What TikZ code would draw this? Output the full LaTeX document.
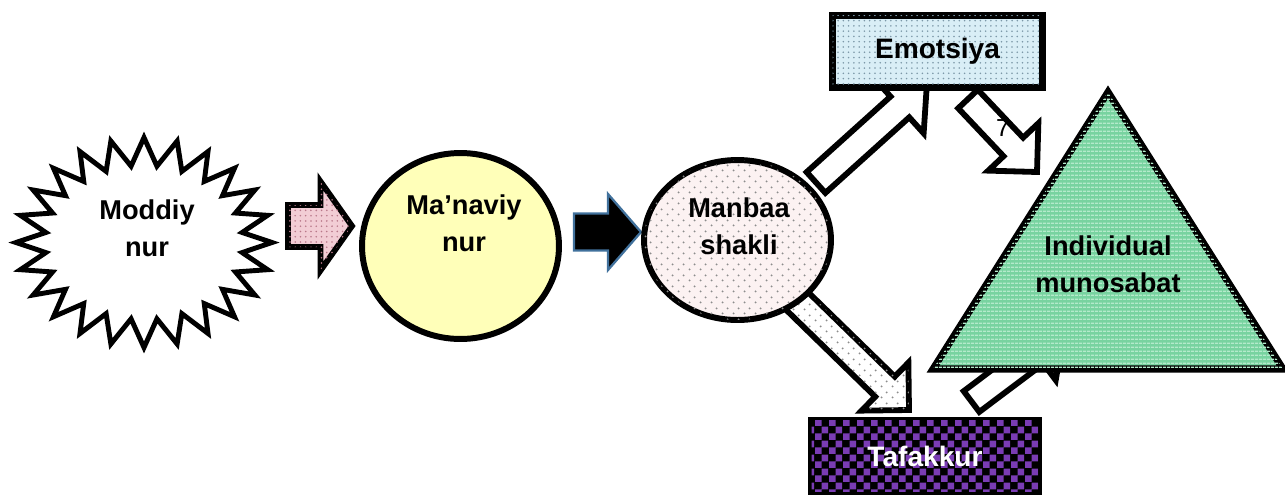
\documentclass[tikz,border=0pt]{standalone}
\usepackage{fontspec}
\setmainfont{Liberation Sans}
\usetikzlibrary{shapes.geometric, calc, backgrounds, patterns}

\definecolor{LightPink}{HTML}{F2CDD5}
\definecolor{PinkDot}{HTML}{B9788A}
\definecolor{PaleYellow}{HTML}{FFFFB9}
\definecolor{PalePink}{HTML}{FCF2F2}
\definecolor{DotGray}{HTML}{8C8C8C}
\definecolor{IceBlue}{HTML}{D9EEF6}
\definecolor{IceDot}{HTML}{7C98A8}
\definecolor{SteelEdge}{HTML}{41719C}
\definecolor{MintGreen}{HTML}{78D3A0}
\definecolor{MintLine}{HTML}{B4EACB}
\definecolor{GrapePurple}{HTML}{7A3CB4}

% own fill patterns
\pgfdeclarepatternformonly{sparse dots}{\pgfpointorigin}{\pgfqpoint{6pt}{6pt}}{\pgfqpoint{6pt}{6pt}}{%
  \pgfpathcircle{\pgfqpoint{1.5pt}{1.5pt}}{0.6pt}\pgfpathcircle{\pgfqpoint{4.5pt}{4.5pt}}{0.6pt}\pgfusepath{fill}}
\pgfdeclarepatternformonly{big checker}{\pgfpointorigin}{\pgfqpoint{8pt}{8pt}}{\pgfqpoint{8pt}{8pt}}{%
  \pgfpathrectangle{\pgfpointorigin}{\pgfqpoint{4pt}{4pt}}\pgfpathrectangle{\pgfqpoint{4pt}{4pt}}{\pgfqpoint{4pt}{4pt}}\pgfusepath{fill}}
\pgfdeclarepatternformonly{fine lines}{\pgfpointorigin}{\pgfqpoint{2pt}{2.2pt}}{\pgfqpoint{2pt}{2.2pt}}{%
  \pgfpathrectangle{\pgfpointorigin}{\pgfqpoint{2pt}{0.8pt}}\pgfusepath{fill}}

\tikzset{
  caption/.style={font=\fontsize{15.5}{21}\selectfont\bfseries, align=center, inner sep=0pt},
  bubble/.style={ellipse, draw=black, line width=3.4pt, inner sep=0pt},
  namebox/.style={rectangle, draw=black, line width=4pt, inner sep=0pt, font=\fontsize{16}{21}\selectfont\bfseries},
  burst/.style={draw=black, line width=2.8pt, fill=white, line join=miter},
  pyramid/.style={draw=black, line width=4pt, fill=MintGreen, postaction={pattern=fine lines, pattern color=MintLine}},
  fatarrow/.style={draw=black, line width=3.3pt, line join=miter, fill=white}
}

% block arrow: [style]{from}{to}{shaft half width}{head half width}{head length}
\newcommand{\fatarrow}[6][]{%
  \coordinate (fa-base) at ($(#3)!#6!(#2)$);
  \draw[fatarrow,#1] ($(#2)!#4!90:(#3)$) -- ($(fa-base)!#4!90:(#3)$) -- ($(fa-base)!#5!90:(#3)$) -- (#3)
    -- ($(fa-base)!#5!-90:(#3)$) -- ($(fa-base)!#4!-90:(#3)$) -- ($(#2)!#4!-90:(#3)$) -- cycle;}

\begin{document}
\begin{tikzpicture}[x=0.02cm, y=-0.02cm]
  \useasboundingbox (0,0) rectangle (1285,495);

  % light source
  \draw[burst, shift={(144,242.5)}] (90:128 and 105)
    \foreach \i [evaluate=\i as \rx using {isodd(\i) ? 99 : 128}, evaluate=\i as \ry using {isodd(\i) ? 77 : 105}] in {1,...,47} { -- ({90+7.5*\i}:{\rx} and {\ry}) } -- cycle;
  \node[caption] (moddiy) at (147,228) {Moddiy\\nur};

  \node[bubble, fill=PaleYellow, minimum width=3.94cm, minimum height=3.72cm] (manaviy) at (460.5,246) {};
  \node[caption] (manaviy-text) at (464,223) {Ma’naviy\\nur};

  \node[bubble, fill=PalePink, postaction={pattern=sparse dots, pattern color=DotGray}, minimum width=3.74cm, minimum height=3.2cm] (manbaa) at (737.5,240) {};
  \node[caption] (manbaa-text) at (739,226) {Manbaa\\shakli};

  \node[namebox, fill=IceBlue, postaction={pattern=dots, pattern color=IceDot}, minimum width=4.2cm, minimum height=1.44cm] (emotsiya) at (937.5,51.5) {Emotsiya};
  \node[namebox, fill=black, postaction={pattern=big checker, pattern color=GrapePurple}, text=white, minimum width=4.54cm, minimum height=1.42cm] (tafakkur) at (925,456) {Tafakkur};

  \draw[pyramid] (1108,92) coordinate (apex) -- (933,369) coordinate (base-l) -- (1283,369) coordinate (base-r) -- cycle;
  \node[caption] (individual) at (1108,264) {Individual\\munosabat};

  \node[font=\fontsize{14}{14}\selectfont, inner sep=0pt] (seven) at (1003,128) {7};

  % arrows behind the shapes
  \begin{scope}[on background layer]
    \coordinate (moddiy-out) at (288,226);
    \coordinate (manaviy-in) at (352,226);
    \coordinate (manaviy-out) at (574,232);
    \coordinate (manbaa-in) at (641,232);
    \coordinate (manbaa-up) at (816,182.5);
    \coordinate (emotsiya-in) at (927,82.5);
    \coordinate (emotsiya-out) at (968,99);
    \coordinate (pyramid-top) at (1037,172);
    \coordinate (manbaa-down) at (793,297);
    \coordinate (tafakkur-in) at (909,410);
    \coordinate (tafakkur-out) at (971.5,401.5);
    \coordinate (pyramid-low) at (1064,332);

    \fatarrow[fill=LightPink, postaction={pattern=dots, pattern color=PinkDot}]{moddiy-out}{manaviy-in}{0.42cm}{0.89cm}{0.63cm}
    \fatarrow[fill=black, draw=SteelEdge, line width=1.3pt]{manaviy-out}{manbaa-in}{0.37cm}{0.76cm}{0.66cm}
    \fatarrow{manbaa-up}{emotsiya-in}{0.28cm}{0.71cm}{0.73cm}
    \fatarrow{emotsiya-out}{pyramid-top}{0.27cm}{0.69cm}{0.69cm}
    \fatarrow[postaction={pattern=sparse dots, pattern color=DotGray}]{manbaa-down}{tafakkur-in}{0.28cm}{0.67cm}{0.67cm}
    \fatarrow{tafakkur-out}{pyramid-low}{0.26cm}{0.67cm}{0.71cm}
  \end{scope}
\end{tikzpicture}
\end{document}
